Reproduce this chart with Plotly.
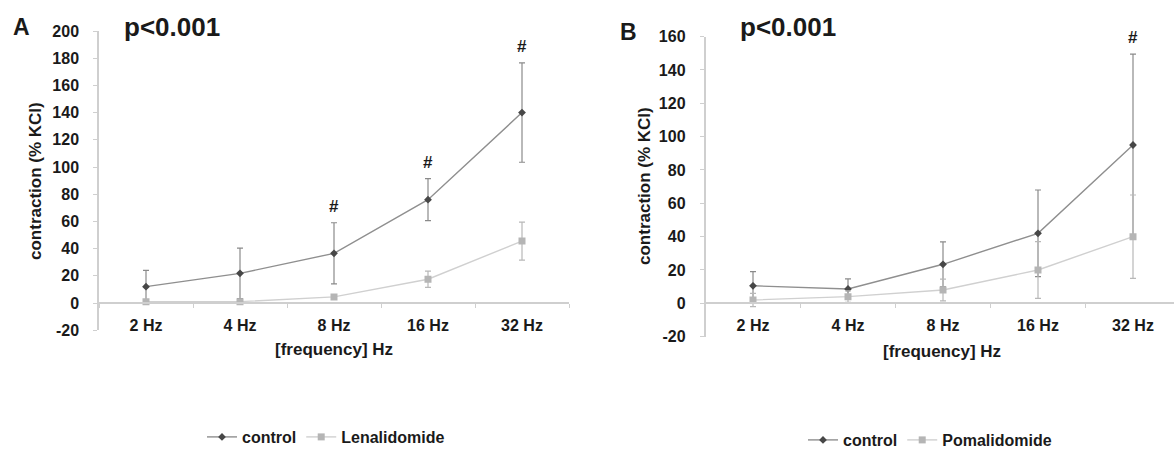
import plotly.graph_objects as go

W, H = 1174, 451

categories = ["2 Hz", "4 Hz", "8 Hz", "16 Hz", "32 Hz"]

# Panel A
a_control = [12, 21.8, 36.5, 76, 140]
a_control_err = [12, 18.6, 22.5, 15.5, 36.5]
a_lena = [1, 1, 4.5, 17.5, 45.5]
a_lena_err = [1, 1, 1.5, 6, 14]
a_sig = ["8 Hz", "16 Hz", "32 Hz"]
a_yticks = [-20, 0, 20, 40, 60, 80, 100, 120, 140, 160, 180, 200]
a_yticklabels = ["-20", "0", "20", "40", "60", "80", "100", "120", "140", "160", "180", "200"]

# Panel B
b_control = [10.5, 8.6, 23.4, 42, 95]
b_control_err = [8.5, 6, 13.5, 26, 54.5]
b_pom = [2, 4, 8, 20, 40]
b_pom_err = [4, 3.5, 6.5, 17, 25]
b_sig = ["32 Hz"]
b_yticks = [-20, 0, 20, 40, 60, 80, 100, 120, 140, 160]
b_yticklabels = ["-20", "0", "20", "40", "60", "80", "100", "120", "140", "160"]

FONT = "Liberation Sans, Arial, sans-serif"
TXT = "#1a1a1a"
AX = "#cfcfcf"

C_LINE, C_MARK, C_ERR = "#8f8f8f", "#474747", "#8a8a8a"
D_LINE, D_MARK, D_ERR = "#d0d0d0", "#b5b5b5", "#b8b8b8"

fig = go.Figure()


def add_series(x, y, err, name, xa, ya, legend, line_c, mark_c, err_c, symbol, msize):
    fig.add_trace(go.Scatter(
        x=x, y=y, name=name, mode="lines+markers",
        xaxis=xa, yaxis=ya, legend=legend,
        line=dict(color=line_c, width=1.4),
        marker=dict(color=mark_c, symbol=symbol, size=msize),
        error_y=dict(type="data", array=err, visible=True, color=err_c,
                     thickness=1.2, width=3),
    ))


add_series(categories, a_control, a_control_err, "control", "x", "y", "legend",
           C_LINE, C_MARK, C_ERR, "diamond", 6)
add_series(categories, a_lena, a_lena_err, "Lenalidomide", "x", "y", "legend",
           D_LINE, D_MARK, D_ERR, "square", 7)
add_series(categories, b_control, b_control_err, "control", "x2", "y2", "legend2",
           C_LINE, C_MARK, C_ERR, "diamond", 6)
add_series(categories, b_pom, b_pom_err, "Pomalidomide", "x2", "y2", "legend2",
           D_LINE, D_MARK, D_ERR, "square", 7)

tickfont = dict(family=FONT, size=16, color=TXT, weight="bold")

# pixel layout
a_x0, a_x1 = 99, 569
a_zero, a_per20 = 303.0, 27.2
a_top = a_zero - 10 * a_per20
a_bot = a_zero + a_per20

b_x0, b_step = 705.5, 95.0
b_zero, b_per20 = 303.3, 33.33
b_top = b_zero - 8 * b_per20
b_bot = b_zero + b_per20

common_x = dict(type="category", categoryorder="array", categoryarray=categories,
                showline=True, linecolor=AX, linewidth=1.5,
                ticks="outside", tickson="boundaries", ticklen=4, tickcolor=AX,
                showgrid=False, zeroline=False, tickfont=tickfont,
                ticklabelstandoff=8, anchor="free", automargin=False)
common_y = dict(showline=True, linecolor=AX, linewidth=1.5, ticks="outside",
                ticklen=4, tickcolor=AX, showgrid=False, zeroline=False,
                tickmode="array", tickfont=tickfont, ticklabelstandoff=11,
                automargin=False)

legfont = dict(family=FONT, size=16, color=TXT, weight="bold")

fig.update_layout(
    width=W, height=H,
    margin=dict(l=0, r=0, t=0, b=0, autoexpand=False),
    paper_bgcolor="white", plot_bgcolor="white",
    font=dict(family=FONT, color=TXT),
    showlegend=True,
    xaxis=dict(common_x, domain=[a_x0 / W, a_x1 / W], range=[-0.5, 4.5],
               position=1 - a_zero / H),
    yaxis=dict(common_y, domain=[1 - a_bot / H, 1 - a_top / H], range=[-20, 200],
               tickvals=a_yticks, ticktext=a_yticklabels, anchor="x"),
    xaxis2=dict(common_x, domain=[b_x0 / W, 1.0],
                range=[-0.5, -0.5 + (W - b_x0) / b_step],
                position=1 - b_zero / H),
    yaxis2=dict(common_y, domain=[1 - b_bot / H, 1 - b_top / H], range=[-20, 160],
                tickvals=b_yticks, ticktext=b_yticklabels, anchor="x2"),
    legend=dict(orientation="h", x=326 / W, xanchor="center", y=1 - 437 / H,
                yanchor="middle", font=legfont,
                bgcolor="rgba(0,0,0,0)", itemwidth=30, tracegroupgap=0),
    legend2=dict(orientation="h", x=930 / W, xanchor="center", y=1 - 440 / H,
                 yanchor="middle", font=legfont,
                 bgcolor="rgba(0,0,0,0)", itemwidth=30, tracegroupgap=0),
)

annotations = []


def paper_text(text, x, y, size, angle=0):
    annotations.append(dict(text=text, x=x / W, y=1 - y / H, xref="paper", yref="paper",
                            xanchor="center", yanchor="middle", showarrow=False,
                            textangle=angle,
                            font=dict(family=FONT, size=size, color=TXT, weight="bold")))


paper_text("A", 21, 27, 23)
paper_text("p&lt;0.001", 172, 27, 26)
paper_text("B", 628, 32, 23)
paper_text("p&lt;0.001", 788, 27, 26)
paper_text("[frequency] Hz", 334, 349, 17)
paper_text("[frequency] Hz", 942, 351, 17)
paper_text("contraction (% KCl)", 35, 181, 17, -90)
paper_text("contraction (% KCl)", 645, 186, 17, -90)

# significance marks above control error bars
for cat in a_sig:
    i = categories.index(cat)
    annotations.append(dict(text="#", x=cat, y=a_control[i] + a_control_err[i],
                            xref="x", yref="y", yanchor="bottom", yshift=5,
                            showarrow=False,
                            font=dict(family=FONT, size=17, color=TXT, weight="bold")))
for cat in b_sig:
    i = categories.index(cat)
    annotations.append(dict(text="#", x=cat, y=b_control[i] + b_control_err[i],
                            xref="x2", yref="y2", yanchor="bottom", yshift=5,
                            showarrow=False,
                            font=dict(family=FONT, size=17, color=TXT, weight="bold")))

fig.update_layout(annotations=annotations)

fig.write_html("out.html")
